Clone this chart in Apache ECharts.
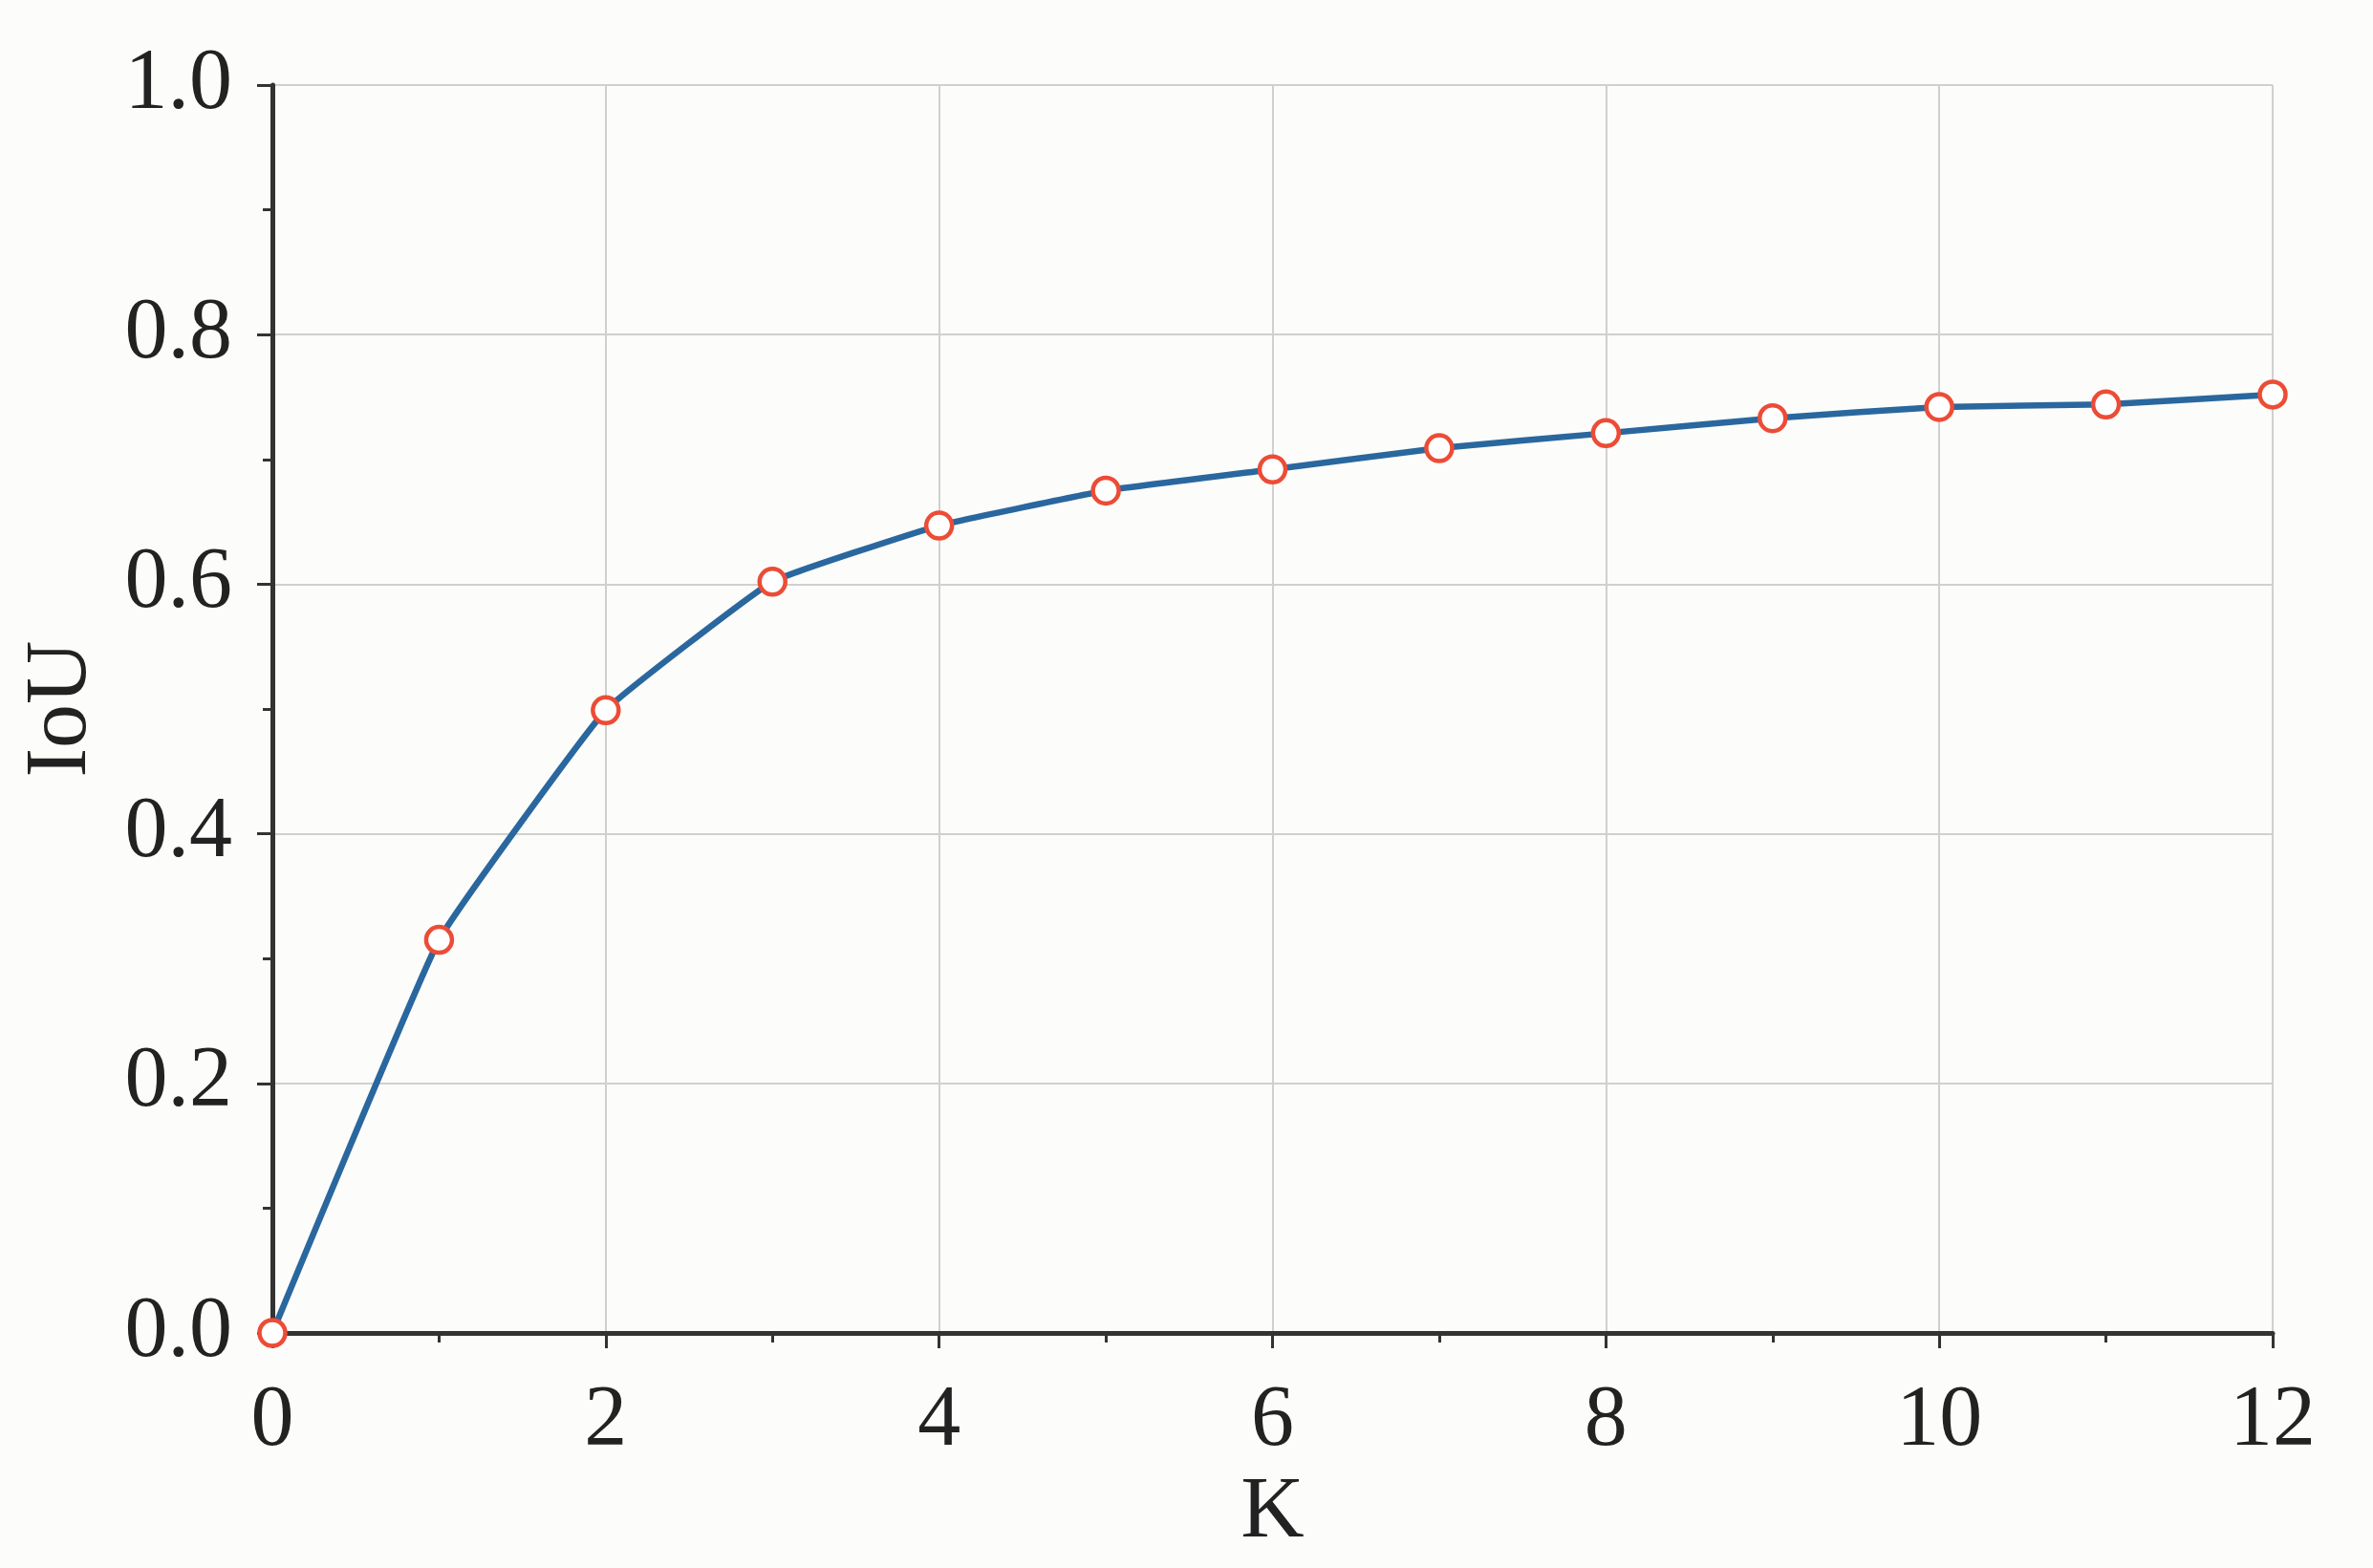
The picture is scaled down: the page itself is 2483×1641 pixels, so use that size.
<!DOCTYPE html>
<html style="height: 100%">
    <head>
        <meta charset="utf-8">
        <script type="text/javascript" src="https://cdn.jsdelivr.net/npm/echarts@6/dist/echarts.min.js"></script>
    </head>
    <body style="height: 100%; margin: 0; background-color: #fcfcfa">
        <div id="container" style="width: 2483px; height: 1641px"></div>
        <script type="text/javascript">
        // K 值与对应 IoU
        var kValues = [0, 1, 2, 3, 4, 5, 6, 7, 8, 9, 10, 11, 12];
        var iouValues = [0.0, 0.315, 0.499, 0.602, 0.647, 0.675, 0.692, 0.709, 0.721, 0.733, 0.742, 0.744, 0.752];

        var points = kValues.map(function (k, i) { return [k, iouValues[i]]; });

        var dom = document.getElementById("container");
        var chart = echarts.init(dom);
        var font = "'Liberation Serif', 'Times New Roman', Times, serif";
        var axisColor = '#333333';
        var gridColor = '#d0d0d0';

        option = {
            backgroundColor: '#fcfcfa',
            animation: false,
            grid: {
                left: 285,
                right: 105,
                top: 89,
                bottom: 246
            },
            xAxis: {
                type: 'value',
                min: 0,
                max: 12,
                interval: 2,
                name: 'K',
                nameLocation: 'middle',
                nameGap: 138,
                nameTextStyle: { fontFamily: font, fontSize: 92, color: '#222' },
                axisLine: { show: true, onZero: false, lineStyle: { color: axisColor, width: 5 } },
                axisTick: { show: true, inside: false, length: 16, lineStyle: { color: axisColor, width: 3 } },
                minorTick: { show: true, splitNumber: 2, length: 10, lineStyle: { color: axisColor, width: 3 } },
                axisLabel: { margin: 48, fontFamily: font, fontSize: 90, color: '#222' },
                splitLine: { show: true, lineStyle: { color: gridColor, width: 2 } }
            },
            yAxis: {
                type: 'value',
                min: 0,
                max: 1.0,
                interval: 0.2,
                name: 'IoU',
                nameLocation: 'middle',
                nameRotate: 90,
                nameGap: 174,
                nameTextStyle: { fontFamily: font, fontSize: 92, color: '#222' },
                axisLine: { show: true, onZero: false, lineStyle: { color: axisColor, width: 5 } },
                axisTick: { show: true, inside: false, length: 16, lineStyle: { color: axisColor, width: 3 } },
                minorTick: { show: true, splitNumber: 2, length: 10, lineStyle: { color: axisColor, width: 3 } },
                axisLabel: {
                    margin: 42, fontFamily: font, fontSize: 90, color: '#222',
                    formatter: function (v) { return v.toFixed(1); }
                },
                splitLine: { show: true, lineStyle: { color: gridColor, width: 2 } }
            },
            series: [
                {
                    name: 'IoU',
                    type: 'line',
                    data: points,
                    smooth: 0.1,
                    symbol: 'circle',
                    symbolSize: 27,
                    clip: false,
                    lineStyle: { color: '#2a679e', width: 6.5 },
                    itemStyle: { color: '#ffffff', borderColor: '#ec4c36', borderWidth: 4.5 },
                    z: 3
                }
            ]
        };

        if (option && typeof option === 'object') {
            chart.setOption(option);
        }
        </script>
    </body>
</html>
